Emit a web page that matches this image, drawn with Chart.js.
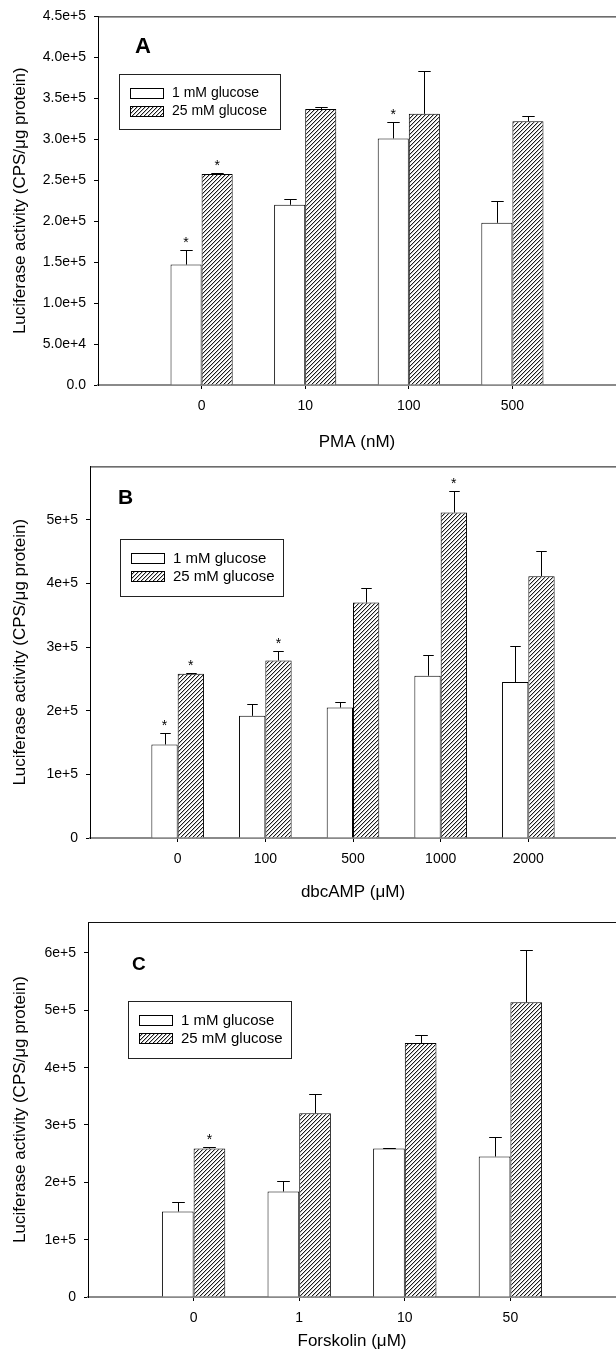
<!DOCTYPE html>
<html>
<head>
<meta charset="utf-8">
<script src="https://cdn.jsdelivr.net/npm/chart.js@4.4.1/dist/chart.umd.min.js"></script>
<style>
  html, body { margin: 0; padding: 0; background: #fff; }
  body { width: 616px; height: 1359px; position: relative; overflow: hidden; }
  canvas { position: absolute; left: 0; }
</style>
</head>
<body>
<canvas id="chart-a" width="616" height="460" style="top:0px"></canvas>
<canvas id="chart-b" width="616" height="460" style="top:450px"></canvas>
<canvas id="chart-c" width="616" height="459" style="top:900px"></canvas>
<script>
const FONT = '"Liberation Sans", Arial, Helvetica, sans-serif';
const seriesNames = ['1 mM glucose', '25 mM glucose'];
const yTitle = 'Luciferase activity (CPS/\u03bcg protein)';

// Panel A - PMA
const pmaDoses = ['0', '10', '100', '500'];
const pmaLow = [147000, 220000, 301000, 198000];
const pmaLowSd = [18000, 7000, 20000, 27000];
const pmaHigh = [257500, 337000, 331000, 322000];
const pmaHighSd = [1500, 2000, 52500, 6000];
const pmaLowStar = [1, 0, 1, 0];
const pmaHighStar = [1, 0, 0, 0];
const pmaTicks = [0, 50000, 100000, 150000, 200000, 250000, 300000, 350000, 400000, 450000];

// Panel B - dbcAMP
const dbcDoses = ['0', '100', '500', '1000', '2000'];
const dbcLow = [147000, 192000, 205000, 255000, 245000];
const dbcLowSd = [18500, 19000, 8500, 32000, 57000];
const dbcHigh = [258000, 279000, 370000, 511500, 411500];
const dbcHighSd = [1500, 15000, 23500, 34000, 40000];
const dbcLowStar = [1, 0, 0, 0, 0];
const dbcHighStar = [1, 1, 0, 1, 0];
const dbcTicks = [0, 100000, 200000, 300000, 400000, 500000];

// Panel C - Forskolin
const forskDoses = ['0', '1', '10', '50'];
const forskLow = [149000, 184000, 259000, 245000];
const forskLowSd = [17000, 17500, 1000, 34000];
const forskHigh = [259000, 320500, 443000, 514000];
const forskHighSd = [2000, 33000, 14500, 92000];
const forskLowStar = [0, 0, 0, 0];
const forskHighStar = [1, 0, 0, 0];
const forskTicks = [0, 100000, 200000, 300000, 400000, 500000, 600000];

// diagonal hatch like the scanned figure
function hatchTile() {
  const c = document.createElement('canvas');
  c.width = 4; c.height = 4;
  const g = c.getContext('2d');
  g.fillStyle = '#fff';
  g.fillRect(0, 0, 4, 4);
  for (let i = 0; i < 4; i++) {
    g.fillStyle = '#1a1a1a';
    g.fillRect(i, 3 - i, 1, 1);
    g.fillStyle = 'rgba(0,0,0,0.25)';
    g.fillRect((i + 1) % 4, 3 - i, 1, 1);
  }
  return c;
}

// error bars, asterisks, top border, panel letter and boxed legend
function extras(p) {
  return {
    id: 'extras',
    afterDatasetsDraw(chart) {
      const ctx = chart.ctx;
      const y = chart.scales.y;
      ctx.save();
      ctx.strokeStyle = '#000';
      ctx.fillStyle = '#000';
      ctx.lineWidth = 1;
      ctx.font = '14px ' + FONT;
      ctx.textAlign = 'center';
      ctx.textBaseline = 'alphabetic';
      chart.data.datasets.forEach((ds, di) => {
        chart.getDatasetMeta(di).data.forEach((bar, i) => {
          const top = Math.round(y.getPixelForValue(ds.data[i].y + p.sds[di][i])) + 0.5;
          const x = Math.round(bar.x) + 0.5;
          const cap = bar.width * 0.2;
          ctx.beginPath();
          ctx.moveTo(x, bar.y);
          ctx.lineTo(x, top);
          ctx.moveTo(x - cap, top);
          ctx.lineTo(x + cap, top);
          ctx.stroke();
          if (p.stars[di][i]) ctx.fillText('*', bar.x, top - 4);
        });
      });
      ctx.restore();
    },
    afterDraw(chart) {
      const ctx = chart.ctx;
      const a = chart.chartArea;
      ctx.save();
      // top frame line
      ctx.strokeStyle = '#111';
      ctx.lineWidth = 1;
      ctx.beginPath();
      ctx.moveTo(a.left, a.top + 0.5);
      ctx.lineTo(a.right, a.top + 0.5);
      ctx.stroke();

      // panel letter
      ctx.fillStyle = '#000';
      ctx.font = 'bold ' + p.letter.size + 'px ' + FONT;
      ctx.textAlign = 'left';
      ctx.textBaseline = 'alphabetic';
      ctx.fillText(p.letter.text, a.left + p.letter.dx, a.top + p.letter.dy);

      // legend
      const L = p.legend;
      const bx = Math.round(a.left + L.dx), by = Math.round(a.top + L.dy);
      ctx.strokeStyle = '#222';
      ctx.strokeRect(bx + 0.5, by + 0.5, L.w, L.h);
      ctx.font = L.font + 'px ' + FONT;
      ctx.textBaseline = 'middle';
      chart.data.datasets.forEach((ds, di) => {
        const sy = by + 14 + di * 18;
        ctx.fillStyle = ds.backgroundColor;
        ctx.fillRect(bx + 11, sy, 33, 10);
        ctx.strokeStyle = '#000';
        ctx.strokeRect(bx + 11.5, sy + 0.5, 33, 10);
        ctx.fillStyle = '#000';
        ctx.fillText(ds.label, bx + 53, sy + 5.5);
      });
      ctx.restore();
    }
  };
}

function drawPanel(id, p) {
  const ctx = document.getElementById(id).getContext('2d');
  const hatch = ctx.createPattern(hatchTile(), 'repeat');
  const n = p.doses.length;
  const toPts = arr => arr.map((v, i) => ({ x: i, y: v }));
  const tickGrid = { display: true, offset: false, drawOnChartArea: false, drawTicks: true, tickLength: 4, tickColor: '#000' };

  new Chart(ctx, {
    type: 'bar',
    data: {
      datasets: [
        { label: seriesNames[0], data: toPts(p.low), backgroundColor: '#fff', borderColor: '#000', borderWidth: 1 },
        { label: seriesNames[1], data: toPts(p.high), backgroundColor: hatch, borderColor: '#000', borderWidth: 1 }
      ]
    },
    options: {
      responsive: false,
      animation: false,
      devicePixelRatio: 1,
      layout: { padding: { top: p.top, left: 0, right: 0, bottom: 0 } },
      datasets: { bar: { categoryPercentage: 0.6, barPercentage: 1.0 } },
      scales: {
        x: {
          type: 'linear',
          min: -1,
          max: n,
          offset: false,
          afterBuildTicks: s => { s.ticks = p.doses.map((d, i) => ({ value: i })); },
          afterFit: s => { s.height = p.xAxisH; },
          grid: tickGrid,
          border: { color: '#8a8a8a', width: 2 },
          ticks: {
            padding: 9, color: '#000', autoSkip: false, maxRotation: 0,
            font: { family: FONT, size: 14 },
            callback: v => p.doses[v]
          },
          title: {
            display: true, text: p.xTitle, color: '#000',
            font: { family: FONT, size: 17 },
            padding: { top: 0, bottom: 7 }
          }
        },
        y: {
          min: 0,
          max: p.yMax,
          afterBuildTicks: s => { s.ticks = p.yTicks.map(v => ({ value: v })); },
          afterFit: s => { s.width = p.yAxisW; },
          grid: tickGrid,
          border: { color: '#000', width: 1 },
          ticks: {
            padding: 8, color: '#000', autoSkip: false,
            font: { family: FONT, size: 14 },
            callback: p.fmt
          },
          title: {
            display: true, text: yTitle, color: '#000',
            font: { family: FONT, size: 17 },
            padding: { top: 10, bottom: 0 }
          }
        }
      },
      plugins: { legend: { display: false }, tooltip: { enabled: false } }
    },
    plugins: [extras(p)]
  });
}

drawPanel('chart-a', {
  doses: pmaDoses, low: pmaLow, high: pmaHigh,
  sds: [pmaLowSd, pmaHighSd], stars: [pmaLowStar, pmaHighStar],
  xTitle: 'PMA (nM)', yMax: 450000, yTicks: pmaTicks,
  fmt: v => (v === 0 ? '0.0' : v.toExponential(1)),
  top: 16, yAxisW: 98, xAxisH: 75,
  letter: { text: 'A', dx: 37, dy: 37, size: 22 },
  legend: { dx: 21, dy: 58, w: 161, h: 55, font: 14 }
});

drawPanel('chart-b', {
  doses: dbcDoses, low: dbcLow, high: dbcHigh,
  sds: [dbcLowSd, dbcHighSd], stars: [dbcLowStar, dbcHighStar],
  xTitle: 'dbcAMP (\u03bcM)', yMax: 584000, yTicks: dbcTicks,
  fmt: v => (v === 0 ? '0' : v.toExponential(0)),
  top: 14, yAxisW: 90, xAxisH: 72,
  letter: { text: 'B', dx: 28, dy: 38, size: 21 },
  legend: { dx: 30, dy: 73, w: 163, h: 57, font: 15 }
});

drawPanel('chart-c', {
  doses: forskDoses, low: forskLow, high: forskHigh,
  sds: [forskLowSd, forskHighSd], stars: [forskLowStar, forskHighStar],
  xTitle: 'Forskolin (\u03bcM)', yMax: 654000, yTicks: forskTicks,
  fmt: v => (v === 0 ? '0' : v.toExponential(0)),
  top: 22, yAxisW: 88, xAxisH: 62,
  letter: { text: 'C', dx: 44, dy: 48, size: 19 },
  legend: { dx: 40, dy: 79, w: 163, h: 57, font: 15 }
});
</script>
</body>
</html>
